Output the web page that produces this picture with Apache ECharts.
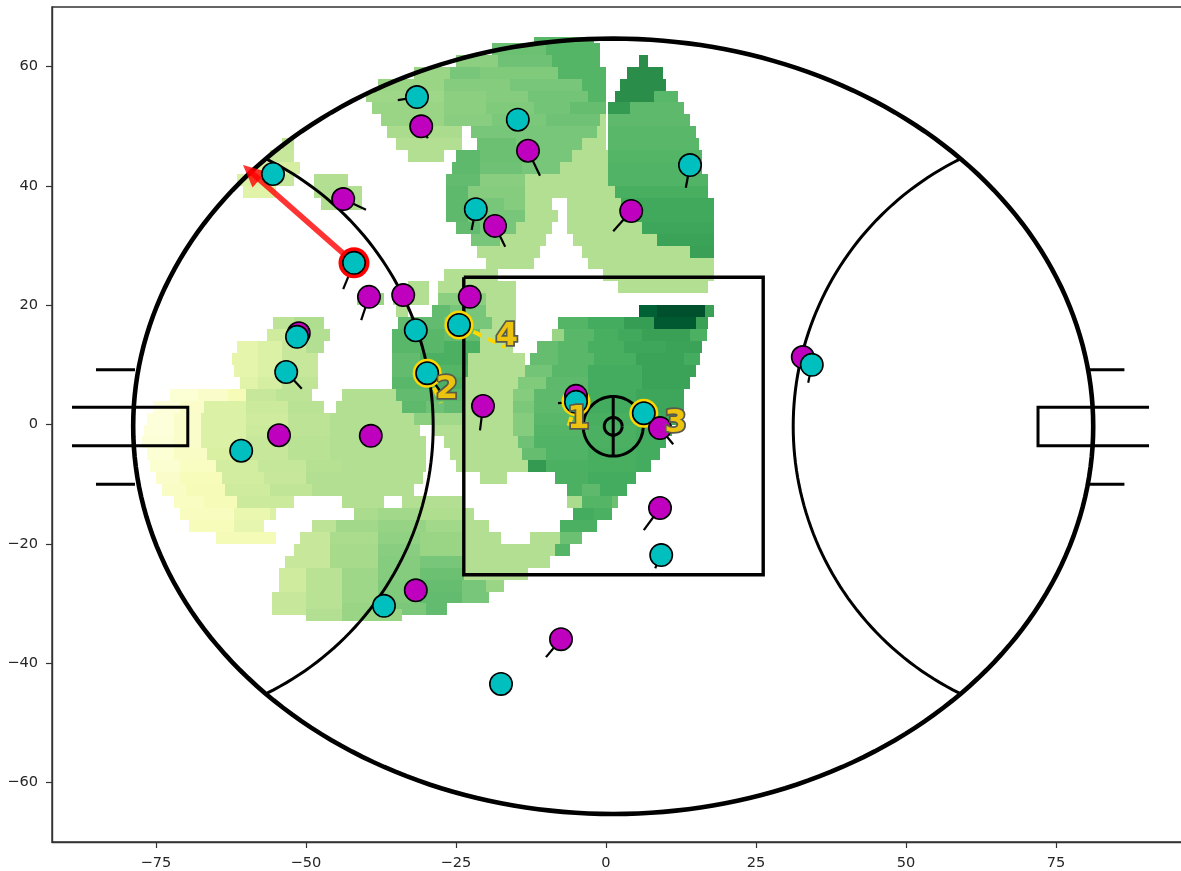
<!DOCTYPE html>
<html><head><meta charset="utf-8">
<style>html,body{margin:0;padding:0;background:#fff;overflow:hidden}#c{width:1181px;height:871px}</style>
<script src="https://cdn.jsdelivr.net/npm/echarts@6/dist/echarts.min.js"></script>
</head><body><div id="c"></div>
<script>
const xTicks=[-75,-50,-25,0,25,50,75];
const yTicks=[-60,-40,-20,0,20,40,60];
const colormap=['#ffffe5','#f7fcb9','#d9f0a3','#addd8e','#78c679','#41ab5d','#238443','#006837','#004529'];
// each row: top y of a 2-unit band, then triples x0,x1,value
const heatRows=[
[65,-12,-2,.57],
[64,-19,-10,.53,-10,-1,.58],
[62,-25,-18,.45,-18,-9,.52,-9,-1,.58,5.5,7,.72],
[60,-32,-26,.42,-26,-21,.5,-21,-8,.48,-8,0,.58,3.5,9.5,.72],
[58,-38,-27,.42,-27,-22,.47,-22,-16,.47,-16,-4,.5,-4,0,.58,2.3,10,.72],
[56,-40,-27,.41,-27,-20,.45,-20,-13,.47,-13,-3,.51,-3,0,.58,1.5,8,.72,8,12,.57],
[54,-39,-27,.42,-27,-20,.45,-20,-12,.48,-12,-6,.51,-6,0,.54,0.3,4,.68,4,13,.56],
[52,-37.5,-27,.42,-27,-19,.46,-19,-10,.49,-10,-1,.52,-1,0,.36,0.3,14,.56],
[50,-36.5,-24,.38,-22.5,-1.5,.5,-1.5,0,.36,0.3,15,.57],
[48,-54,-52,.32,-35,-24,.36,-21.5,-15,.53,-15,-4,.5,-4,0,.36,0.3,15.5,.57],
[46,-56,-52,.3,-33,-27,.36,-25,-21,.56,-21,-12,.53,-12,-5.7,.5,-5.7,0.3,.36,0.3,16,.58],
[44,-58,-51,.26,-25.7,-21,.56,-21,-14,.52,-14,-7.7,.5,-7.7,0.3,.36,0.3,16,.59],
[42,-61.5,-57,.24,-57,-52,.3,-48.7,-43,.36,-26.7,-21,.55,-21,-13.5,.46,-13.5,0.3,.36,0.3,17,.59],
[40,-60.5,-55,.22,-48.7,-40.7,.36,-26.7,-23,.56,-23,-13.5,.47,-13.5,1.5,.36,1.5,17,.61],
[38,-47.5,-40.7,.36,-26.7,-23,.56,-23,-17,.5,-17,-13.5,.47,-13.5,-9,.36,-6.5,2.5,.36,2.5,18,.63],
[36,-26.7,-23,.56,-23,-13.5,.5,-13.5,-8,.36,-6.5,3,.36,3,18,.63],
[34,-25,-21,.55,-21,-15,.5,-15,-9,.36,-6.5,6,.36,6,18,.64],
[32,-22.5,-17.7,.5,-17.7,-10,.36,-5.5,8.5,.36,8.5,18,.65],
[30,-21.5,-11,.36,-4,14,.36,14,18,.66],
[28,-20,-12,.36,-3,18,.36],
[26,-27,-18,.36,-0.5,18,.36],
[24,-33,-29.5,.36,-28,-15,.36,2,17,.36],
[22,-41.5,-37,.42,-35.5,-29.5,.36,-28,-20,.45,-20,-15,.36],
[20,-35,-33,.36,-29,-26,.55,-26,-20,.5,-20,-15,.36,5.5,8.5,.9,8.5,16.5,.96,16.5,18,.66],
[18,-55.5,-52,.33,-52,-47,.37,-34.7,-27,.55,-27,-19,.5,-19,-15,.36,-8,-3,.58,-3,3,.62,3,8,.67,8,15,.93,15,17,.66],
[16,-56.5,-52,.28,-52,-46,.36,-35.7,-27,.57,-27,-21,.55,-21,-15,.36,-9,-7,.42,-7,-2,.57,-2,2,.61,2,6,.63,6,14,.66,14,16.8,.6],
[14,-61.5,-58,.2,-58,-54,.24,-54,-50,.3,-50,-47,.36,-35.7,-27,.57,-27,-21,.6,-21,-15.5,.36,-11.5,-8,.54,-8,-3,.57,-3,3,.61,3,10,.64,10,16,.65],
[12,-62.3,-58,.2,-58,-54,.24,-54,-48,.3,-35.7,-31,.55,-31,-24,.6,-24,-23,.62,-23,-13.5,.36,-12.7,-8,.54,-8,-2,.57,-2,5,.61,5,13,.65,13,15.7,.62],
[10,-62,-58,.2,-58,-54,.24,-54,-48,.3,-35.7,-30,.55,-30,-24,.58,-24,-23,.6,-23,-13.5,.36,-13.5,-9,.51,-9,-3,.57,-3,6,.62,6,15,.65],
[8,-61,-58,.22,-58,-54,.26,-54,-48,.32,-35.7,-30,.57,-30,-23.7,.6,-23.7,-14.7,.36,-14.7,-10,.48,-10,-3,.56,-3,6,.62,6,14,.65],
[6,-72.7,-68,.05,-68,-63,.08,-63,-60,.13,-60,-55,.3,-55,-49,.33,-44,-35,.36,-35,-28,.55,-28,-23.7,.57,-23.7,-15.5,.36,-15.5,-12,.47,-12,-3,.56,-3,5,.62,5,13,.64],
[4,-75.5,-71,.03,-71,-67,.08,-67,-60,.24,-60,-53,.29,-53,-47,.34,-45,-34,.36,-34,-30,.56,-30,-27,.52,-27,-23.7,.55,-23.7,-15.5,.36,-15.5,-12,.49,-12,-3,.56,-3,5,.62,5,13,.64],
[2,-76.5,-72,.03,-72,-67.5,.08,-67.5,-60,.24,-60,-53,.28,-53,-46,.33,-46,-32,.36,-32,-29,.45,-29,-23.7,.4,-23.7,-15.5,.36,-15.5,-12,.47,-12,-3,.57,-3,5,.61,5,12,.63],
[0,-77,-72,.03,-72,-67.5,.08,-67.5,-60,.24,-60,-53,.29,-53,-46,.33,-46,-31,.36,-29,-15.5,.36,-15.5,-12,.47,-12,-3,.58,-3,5,.6,5,11,.62],
[-2,-77.4,-72,.04,-72,-67.5,.08,-67.5,-60,.24,-60,-53,.3,-53,-46,.34,-46,-30,.36,-27,-14.7,.36,-14.7,-12,.52,-12,-3,.59,-3,5,.6,5,10,.62],
[-4,-76.5,-72,.05,-72,-66.5,.09,-66.5,-60,.25,-60,-53,.3,-53,-46,.34,-46,-30,.36,-26,-14,.36,-14,-10,.54,-10,-3,.59,-3,5,.61,5,9,.62],
[-6,-76,-71,.06,-71,-65,.1,-65,-58,.27,-58,-50,.31,-50,-44,.35,-44,-30,.36,-25,-13,.36,-13,-10,.68,-10,-3,.6,-3,5,.61,5,7.5,.62],
[-8,-75,-71,.08,-71,-64,.12,-64,-57,.27,-57,-50,.3,-50,-30.5,.36,-21,-16.5,.36,-8.5,-3,.6,-3,5,.62],
[-10,-74,-70,.09,-70,-63.5,.13,-63.5,-56,.28,-56,-49,.32,-49,-32,.36,-6.5,-4,.6,-4,-1,.56,-1,3.5,.62],
[-12,-72,-67,.1,-67,-61.5,.13,-61.5,-52,.29,-44,-37,.36,-34,-24,.36,-6.5,-4,.38,-4,1,.58,1,2,.53],
[-14,-71,-62,.11,-62,-56,.18,-56,-55,.24,-42,-38,.38,-38,-31,.4,-31,-23.7,.37,-23.7,-22,.36,-5.5,-2,.62,-2,1,.6],
[-16,-69.5,-62,.12,-62,-57,.19,-49,-45,.33,-45,-38,.4,-38,-30,.43,-30,-23.7,.4,-23.7,-19.5,.36,-7.7,-5.5,.6,-5.5,-1.5,.6],
[-18,-65,-55,.14,-51,-46,.3,-46,-38,.38,-38,-31,.44,-31,-24,.42,-24,-17.5,.36,-12.7,-7.7,.36,-7.7,-4,.53],
[-20,-52,-46,.3,-46,-38,.39,-38,-31,.46,-31,-24,.42,-24,-8.5,.36,-8.5,-6,.58],
[-22,-53.5,-46,.3,-46,-38,.39,-38,-31,.47,-31,-24,.5,-24,-9.3,.36],
[-24,-54.5,-50,.28,-50,-44,.34,-44,-38,.41,-38,-31,.47,-31,-23.7,.53,-23.7,-13,.36],
[-26,-54.5,-50,.28,-50,-44,.34,-44,-38,.41,-38,-31,.48,-31,-24,.54,-24,-20,.5,-20,-17,.42],
[-28,-55.7,-50,.3,-50,-44,.34,-44,-38,.41,-38,-31,.48,-31,-24,.55,-24,-19.5,.5],
[-30,-55.7,-50,.3,-50,-44,.34,-44,-38,.42,-38,-30,.49,-30,-26.5,.55],
[-31,-50,-44,.36,-44,-34,.42]
];
const magentaPlayers=[[-30.8,50],[-13,45.9],[-43.8,37.8],[4.2,35.8],[-18.5,33.3],[-39.5,21.4],[-33.8,21.7],[-22.7,21.4],[-51.2,15.3],[-20.5,3.1],[-5,4.8],[9,-0.6],[9,-14],[-54.5,-1.8],[-39.2,-1.9],[-31.7,-27.8],[-7.5,-36],[32.8,11.3]];
const cyanPlayers=[[-31.5,54.9],[-14.7,51.1],[-55.5,42],[14,43.5],[-21.7,36.1],[-42,27.1],[-31.7,15.8],[-24.5,16.7],[-29.8,8.6],[-51.5,14.7],[-53.3,8.8],[-5,3.8],[6.3,1.9],[-60.8,-4.4],[9.2,-21.9],[-37,-30.4],[-17.5,-43.5],[34.3,10]];
const headings=[[-30.8,50,-29.7,48],[-13,45.9,-11,41.7],[-43.8,37.8,-40,36],[4.2,35.8,1.2,32.4],[-18.5,33.3,-16.8,29.8],[-39.5,21.4,-40.8,17.5],[-20.5,3.1,-21,-1],[9,-0.6,11.2,-3.3],[9,-14,6.3,-17.7],[-7.5,-36,-10,-39],[32.8,11.3,33,10],
[-31.5,54.9,-34.7,54.4],[14,43.5,13.3,39.7],[-21.7,36.1,-22.4,32.6],[-42,27.1,-43.8,22.7],[-53.3,8.8,-50.7,6],[34.3,10,33.7,7],[-5,3.8,-8,3.6],[9.2,-21.9,8.2,-24.1],[-29.8,8.6,-27.7,5.7]];
const ringedGold=[[-24.5,16.7],[-29.8,8.6],[-5,3.8],[6.3,1.9]];
const ringedRed=[[-42,27.1]];
const passArrow=[[-42,27.1,-60.5,43.5]];
const optionLinks=[[-5,3.8,-6.5,-1.1],[-29.8,8.6,-27.5,3.6],[6.3,1.9,10.3,-0.6],[-24.5,16.7,-16.8,13]];
const optionX=[-4.6,-26.5,11.6,-16.5];
const optionY=[0.75,5.8,0.1,14.8];
const optionText=['1','2','3','4'];
// pitch geometry
const pitchCentre=[1.2,-0.3];
const boundary=[80,65];
const arcRadius=50;
const squareBox=[-23.7,24.7,26.2,-25.2];
const centreRadii=[5,1.5];
const goalY=[2.9,-3.55];
const behindY=[9.2,-10];
const leftGoalX=[-89,-69.7];
const rightGoalX=[72,90.5];
const leftBehindX=[-85,-78.5];
const rightBehindX=[80.5,86.4];

const heat=[];
heatRows.forEach(r=>{for(let i=1;i<r.length;i+=3)heat.push([r[i],r[i+1],r[0],r[0]-2,r[i+2]]);});
function ell(cx,cy,a,b,t0,t1,n){const o=[];for(let i=0;i<=n;i++){const t=(t0+(t1-t0)*i/n)*Math.PI/180;o.push([cx+a*Math.cos(t),cy+b*Math.sin(t)]);}return o;}
function pline(data,w,z){return {type:'line',data,showSymbol:false,symbol:'none',silent:true,z:z||3,clip:false,animation:false,lineStyle:{color:'#000',width:w,cap:'butt',join:'miter'}};}
const [cx,cy]=pitchCentre;
const arcAngle=63.5;
const lx=cx-boundary[0],rx=cx+boundary[0];
const segs=[
[[leftGoalX[0],goalY[0]],[leftGoalX[1],goalY[0]],[leftGoalX[1],goalY[1]],[leftGoalX[0],goalY[1]]],
[[rightGoalX[1],goalY[0]],[rightGoalX[0],goalY[0]],[rightGoalX[0],goalY[1]],[rightGoalX[1],goalY[1]]],
[[leftBehindX[0],behindY[0]],[leftBehindX[1],behindY[0]]],[[leftBehindX[0],behindY[1]],[leftBehindX[1],behindY[1]]],
[[rightBehindX[0],behindY[0]],[rightBehindX[1],behindY[0]]],[[rightBehindX[0],behindY[1]],[rightBehindX[1],behindY[1]]],
[[cx,cy+centreRadii[0]],[cx,cy-centreRadii[0]]]
];
const b=squareBox;
function segRender(color,w,dash){return function(p,api){const a=api.coord([api.value(0),api.value(1)]),c=api.coord([api.value(2),api.value(3)]);
 return {type:'line',shape:{x1:a[0],y1:a[1],x2:c[0],y2:c[1]},style:{stroke:color,lineWidth:w,lineDash:dash||null}};};}
const series=[
{type:'custom',z:1,silent:true,clip:false,animation:false,data:heat,encode:{x:[0,1],y:[2,3]},
 renderItem:function(p,api){const a=api.coord([api.value(0),api.value(2)]),c=api.coord([api.value(1),api.value(3)]);
  const x=Math.round(a[0]),y=Math.round(a[1]);
  return {type:'rect',shape:{x,y,width:Math.round(c[0])-x,height:Math.round(c[1])-y},style:{fill:api.visual('color')}};}},
pline(ell(cx,cy,boundary[0],boundary[1],0,360,240),4.6,3),
pline(ell(lx,cy,arcRadius,arcRadius,-arcAngle,arcAngle,90),3,3),
pline(ell(rx,cy,arcRadius,arcRadius,180-arcAngle,180+arcAngle,90),3,3),
pline([[b[0],b[1]],[b[2],b[1]],[b[2],b[3]],[b[0],b[3]],[b[0],b[1]]],3.4,3),
pline(ell(cx,cy,centreRadii[0],centreRadii[0],0,360,72),3,3),
pline(ell(cx,cy,centreRadii[1],centreRadii[1],0,360,40),3,3)
];
segs.forEach(s=>series.push(pline(s,3,3)));
series.push({type:'custom',z:4,silent:true,animation:false,data:headings,encode:{x:[0,2],y:[1,3]},renderItem:segRender('#000',2.2)});
series.push({type:'custom',z:4,silent:true,animation:false,data:optionLinks,encode:{x:[0,2],y:[1,3]},renderItem:segRender('#ffd700',4,[9,7])});
series.push({type:'custom',z:5,silent:true,animation:false,data:passArrow,encode:{x:[0,2],y:[1,3]},
 renderItem:function(p,api){const a=api.coord([api.value(0),api.value(1)]),t=api.coord([api.value(2),api.value(3)]);
  const d=Math.hypot(t[0]-a[0],t[1]-a[1]),ux=(t[0]-a[0])/d,uy=(t[1]-a[1])/d,L=22,W=10.5;
  const bx=t[0]-ux*L,by=t[1]-uy*L;
  return {type:'group',children:[
   {type:'line',shape:{x1:a[0],y1:a[1],x2:t[0]-ux*8,y2:t[1]-uy*8},style:{stroke:'#ff0000',lineWidth:5.5,opacity:.8}},
   {type:'polygon',shape:{points:[[t[0],t[1]],[bx-uy*W,by+ux*W],[bx+uy*W,by-ux*W]]},style:{fill:'#ff0000',opacity:.8}}]};}});
const dot=(data,size,fill,z,border)=>({type:'scatter',data,symbol:'circle',symbolSize:size,z,silent:true,animation:false,clip:false,itemStyle:{color:fill,opacity:1,borderColor:border?'#000':fill,borderWidth:border?1.6:0}});
series.push(dot(ringedRed,31,'#ff0000',5));
series.push(dot(ringedGold,29,'#ffd700',5));
series.push(dot(magentaPlayers,22.4,'#bf00bf',6,true));
series.push(dot(cyanPlayers,22.4,'#00bfbf',7,true));
series.push({type:'custom',z:9,silent:true,animation:false,data:optionX.map((x,i)=>[x,optionY[i]]),encode:{x:0,y:1},
 renderItem:function(p,api){const a=api.coord([api.value(0),api.value(1)]);
  return {type:'text',x:a[0],y:a[1],style:{text:optionText[p.dataIndex],fill:'#ecc30f',stroke:'#5a5a4a',lineWidth:3.5,strokeFirst:true,font:'bold 32px "DejaVu Sans"',align:'center',verticalAlign:'middle'}};}});
const chart=echarts.init(document.getElementById('c'),null,{renderer:'canvas'});
const lbl={color:'#262626',fontFamily:'DejaVu Sans',fontSize:14.6,margin:14,formatter:v=>String(v).replace('-','\u2212')};
const axisCommon={type:'value',scale:true,splitLine:{show:false},axisLine:{show:true,onZero:false,lineStyle:{color:'#333',width:1.4}}};
const tickStyle=v=>({length:6,lineStyle:{color:'#333',width:1.2},customValues:v});
chart.setOption({animation:false,backgroundColor:'#fff',
 grid:{left:52,top:7,width:1150,height:835,outerBoundsMode:'none',containLabel:false,show:true,borderColor:'#333',borderWidth:1.4,backgroundColor:'transparent'},
 xAxis:Object.assign({},axisCommon,{min:-92.33,max:99.33,axisTick:tickStyle(xTicks),axisLabel:Object.assign({},lbl,{customValues:xTicks})}),
 yAxis:Object.assign({},axisCommon,{min:-70,max:70,axisTick:tickStyle(yTicks),axisLabel:Object.assign({},lbl,{customValues:yTicks})}),
 visualMap:{show:false,type:'continuous',seriesIndex:0,dimension:4,min:0,max:1,inRange:{color:colormap}},
 series});
</script></body></html>
